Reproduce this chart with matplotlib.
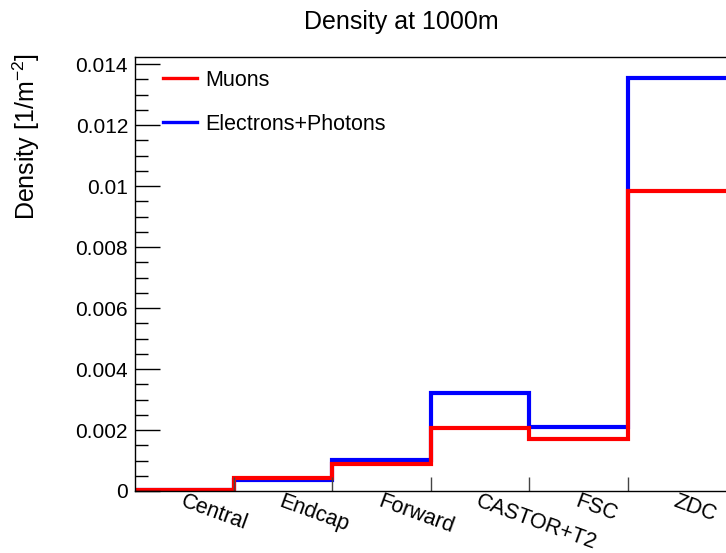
import numpy as np
import matplotlib.pyplot as plt
from matplotlib.ticker import MultipleLocator, FuncFormatter
from matplotlib.lines import Line2D

plt.rcParams['font.family'] = ['Liberation Sans', 'DejaVu Sans']
plt.rcParams['mathtext.fontset'] = 'custom'
plt.rcParams['mathtext.rm'] = 'Liberation Sans'
plt.rcParams['mathtext.default'] = 'rm'

# detector regions and densities
regions = ['Central', 'Endcap', 'Forward', 'CASTOR+T2', 'FSC', 'ZDC']
muons = [0.00003, 0.00044, 0.00088, 0.00205, 0.00171, 0.00984]
electrons = [0.00002, 0.00035, 0.00102, 0.00321, 0.00210, 0.01355]

edges = np.arange(len(regions) + 1)

fig = plt.figure(figsize=(7.26, 5.53), dpi=100)
ax = fig.add_axes([135/726, 1 - 491/553, 591/726, 434/553])

ax.stairs(electrons, edges, color='#0000ff', lw=3, baseline=None)
ax.stairs(muons, edges, color='#ff0000', lw=3, baseline=None)

ax.set_xlim(0, len(regions))
ax.set_ylim(0, 0.01423)

# y axis ticks ROOT style
ax.yaxis.set_major_locator(MultipleLocator(0.002))
ax.yaxis.set_minor_locator(MultipleLocator(0.0005))
ax.yaxis.set_major_formatter(FuncFormatter(lambda v, p: '%g' % round(v, 4)))
ax.tick_params(axis='y', which='major', direction='in', length=18, width=1, labelsize=15, pad=5)
ax.tick_params(axis='y', which='minor', direction='in', length=9, width=1)

# x ticks at bin edges, labels drawn by hand
ax.set_xticks(edges[1:-1])
ax.set_xticklabels([])
ax.tick_params(axis='x', which='major', direction='in', length=10, width=1, color='#444444')
for i, name in enumerate(regions):
    ax.text(i + 0.51, 0.0, name, rotation=-20, ha='left', va='top',
            rotation_mode='anchor', fontsize=15.5, clip_on=False)

ax.spines['right'].set_visible(False)
for s in ['left', 'bottom', 'top']:
    ax.spines[s].set_linewidth(1)

handles = [Line2D([], [], color='#ff0000', lw=2.4),
           Line2D([], [], color='#0000ff', lw=2.4)]
ax.legend(handles, ['Muons', 'Electrons+Photons'], loc='upper left', frameon=False,
          fontsize=15.5, handlelength=1.6, handletextpad=0.35, labelspacing=1.05,
          borderpad=0, borderaxespad=0, bbox_to_anchor=(28/591, 1 - 13/434))

fig.text(401/726, 1 - 29/553, 'Density at 1000m', ha='center', va='baseline', fontsize=18)
fig.text(26/726, 1 - 53/553, 'Density [1/m$^{-2}$]', rotation=90, ha='center', va='top', fontsize=18)

fig.savefig('out.png', dpi=100)
